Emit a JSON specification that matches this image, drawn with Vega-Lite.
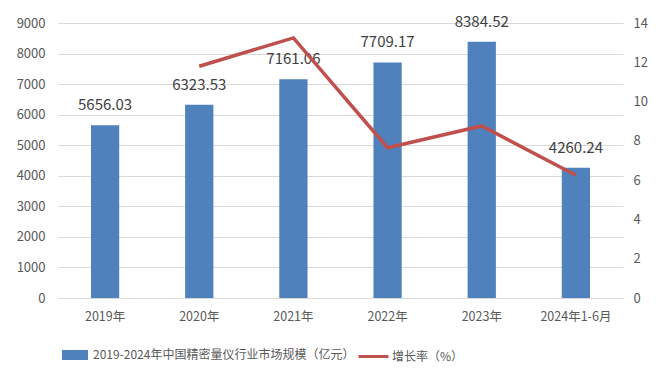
{
  "$schema": "https://vega.github.io/schema/vega-lite/v6.json",
  "width": 565,
  "height": 275,
  "autosize": "none",
  "padding": {"left": 58, "top": 23, "right": 44, "bottom": 85},
  "background": "white",
  "config": {
    "view": {"stroke": null},
    "font": "Noto Sans CJK SC",
    "axis": {"labelColor": "#595959", "labelFont": "Noto Sans CJK SC", "ticks": false, "domain": false, "gridColor": "#D9D9D9", "gridWidth": 1, "title": null, "labelOverlap": false},
    "legend": {"labelColor": "#595959", "labelFont": "Noto Sans CJK SC", "labelFontSize": 12, "padding": 0, "title": null, "labelLimit": 0}
  },
  "data": {
    "values": [
      {"year": "2019年", "size": 5656.03, "rate": null},
      {"year": "2020年", "size": 6323.53, "rate": 11.8},
      {"year": "2021年", "size": 7161.06, "rate": 13.24},
      {"year": "2022年", "size": 7709.17, "rate": 7.65},
      {"year": "2023年", "size": 8384.52, "rate": 8.76},
      {"year": "2024年1-6月", "size": 4260.24, "rate": 6.25}
    ]
  },
  "encoding": {
    "x": {
      "field": "year", "type": "nominal", "sort": null,
      "scale": {"paddingInner": 0.7, "paddingOuter": 0.35},
      "axis": {"labelAngle": 0, "labelPadding": 12, "labelFontSize": 12.5, "grid": false}
    }
  },
  "layer": [
    {
      "encoding": {
        "y": {"field": "size", "type": "quantitative", "scale": {"domain": [0, 9000]},
          "axis": {"values": [0,1000,2000,3000,4000,5000,6000,7000,8000,9000], "tickCount": 20, "format": "d", "labelPadding": 13, "labelFontSize": 13, "grid": true, "labelOverlap": false}}
      },
      "layer": [
        {
          "mark": {"type": "bar"},
          "encoding": {
            "fill": {"datum": "2019-2024年中国精密量仪行业市场规模（亿元）", "type": "nominal",
              "scale": {"range": ["#4F81BD"]},
              "legend": {"orient": "none", "legendX": 7, "legendY": 322, "symbolType": "M-1.3,-0.5H1.3V0.5H-1.3Z", "symbolSize": 400, "labelOffset": 8, "symbolStrokeWidth": 0, "labelLimit": 0}}
          }
        },
        {
          "mark": {"type": "text", "dy": -20, "fontSize": 15, "color": "#404040", "baseline": "middle"},
          "encoding": {
            "text": {"field": "size", "type": "quantitative", "format": ".2f"}
          }
        }
      ]
    },
    {
      "transform": [{"filter": "isValid(datum.rate)"}],
      "mark": {"type": "line", "strokeWidth": 3.5},
      "encoding": {
        "y": {"field": "rate", "type": "quantitative", "scale": {"domain": [0, 14]},
          "axis": {"orient": "right", "values": [0,2,4,6,8,10,12,14], "tickCount": 20, "format": "d", "labelPadding": 10, "labelFontSize": 13, "grid": false}},
        "stroke": {"datum": "增长率（%）", "type": "nominal",
          "scale": {"range": ["#C0504D"]},
          "legend": {"orient": "none", "legendX": 299, "legendY": 317, "symbolType": "stroke", "symbolSize": 900, "symbolStrokeWidth": 3, "labelOffset": 2, "labelLimit": 0}}
      }
    }
  ],
  "resolve": {"scale": {"y": "independent"}}
}
